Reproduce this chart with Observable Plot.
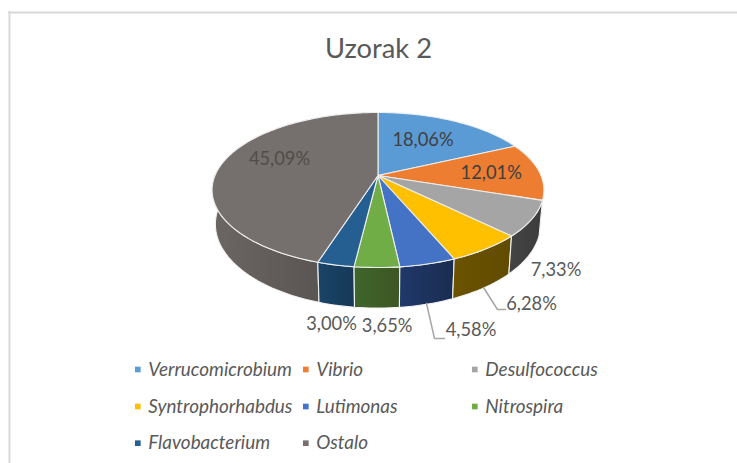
<!DOCTYPE html>
<html>
<head>
<meta charset="utf-8">
<style>html,body{margin:0;padding:0;background:#fff}svg{display:block}</style>
<script src="https://cdn.jsdelivr.net/npm/d3@7"></script>
<script src="https://cdn.jsdelivr.net/npm/@observablehq/plot@0.6"></script>
</head>
<body>
<div id="chart"></div>
<script>
const chartTitle = "Uzorak 2";
const names = ["Verrucomicrobium","Vibrio","Desulfococcus","Syntrophorhabdus","Lutimonas","Nitrospira","Flavobacterium","Ostalo"];
const values = [18.06,12.01,7.33,6.28,4.58,3.65,3.00,45.09];
const colors = ["#5b9bd5","#ed7d31","#a5a5a5","#ffc000","#4472c4","#70ad47","#255e91","#75706e"];
// wall shading, left and right colour of each slice's outer wall (null: wall not visible)
const wallLeft  = [null,null,"#444444","#6b5300","#20396a","#3f662c","#1a4468","#6b6664"];
const wallRight = [null,null,"#3c3c3c","#614b00","#1a2c50","#3d5524","#153856","#504c4a"];

// layout of the labels and the legend
const labelX = [422.5,490.7,555.5,531,470.5,386.6,331,279];
const labelY = [140,173,270,304,330,326,324,159];
const labelInk = ["#404040","#404040","#595959","#595959","#595959","#595959","#595959","#504c4a"];
const leaders = [
  {k:"a",x:483,y:287},{k:"a",x:497,y:309},{k:"a",x:505,y:309},
  {k:"b",x:426,y:303},{k:"b",x:434,y:338},{k:"b",x:444,y:338}
];
const legendX = [137.3,305.3,474.3];
const legendY = [369,406,442.7];

// 3D pie projection
const cx = 377.5, cy = 175, R = 163, S = 74.8, K = 0.187, depth = 33, baseShrink = 0.98;
const project = (deg, base) => {
  const t = deg * Math.PI / 180, u = Math.sin(t), v = Math.cos(t), w = 1 + K * v;
  return base
    ? {x: cx + baseShrink * R * u / w, y: cy - S * v / w + depth / w}
    : {x: cx + R * u / w, y: cy - S * v / w};
};
const cum = d3.cumsum(values);
const slices = names.map((name,i) => ({
  name, i,
  a0: (i ? cum[i-1] : 0) * 3.6,
  a1: cum[i] * 3.6
}));
const arcAngles = s => {
  const n = Math.max(2, Math.ceil((s.a1 - s.a0) / 1.5));
  return d3.range(n + 1).map(j => s.a0 + (s.a1 - s.a0) * j / n);
};
const topPts = slices.flatMap(s => [
  {name:s.name, x:cx, y:cy},
  ...arcAngles(s).map(a => ({name:s.name, ...project(a,false)}))
]);
const wallPts = s => [
  ...arcAngles(s).map(a => project(a,false)),
  ...arcAngles(s).reverse().map(a => project(a,true))
];
const labels = slices.map(s => ({
  text: values[s.i].toFixed(2).replace(".",",") + "%",
  x: labelX[s.i], y: labelY[s.i], ink: labelInk[s.i]
}));
const legend = names.map((name,i) => ({
  name,
  x: legendX[i % 3],
  y: legendY[Math.floor(i / 3)]
}));

const defs = () => {
  const d = d3.create("svg:defs");
  slices.forEach(s => {
    if (!wallLeft[s.i]) return;
    const g = d.append("linearGradient").attr("id","wall"+s.i);
    g.append("stop").attr("offset","0%").attr("stop-color",wallLeft[s.i]);
    g.append("stop").attr("offset","100%").attr("stop-color",wallRight[s.i]);
  });
  return d.node();
};

const font = "Lato, Carlito, sans-serif";
const walls = slices.filter(s => wallLeft[s.i]).reverse().map(s =>
  Plot.line(wallPts(s), {x:"x", y:"y", curve:"linear-closed", fill:`url(#wall${s.i})`, stroke:"#f2f2f2", strokeWidth:1.1})
);

const plot = Plot.plot({
  width:737, height:463, margin:0,
  x:{domain:[0,737], range:[0,737], axis:null},
  y:{domain:[0,463], range:[0,463], axis:null},
  color:{domain:names, range:colors},
  style:{background:"#fff", fontFamily:font},
  marks:[
    defs,
    Plot.ruleX([9],{y1:11,y2:463,stroke:"#d9d9d9",strokeWidth:2}),
    Plot.ruleY([12],{x1:8,x2:737,stroke:"#d9d9d9",strokeWidth:2}),
    ...walls,
    Plot.line(topPts,{x:"x",y:"y",z:"name",fill:"name",stroke:"#eeeeee",strokeWidth:1.1,curve:"linear-closed"}),
    Plot.line(leaders,{x:"x",y:"y",z:"k",stroke:"#a6a6a6",strokeWidth:1.5}),
    Plot.text([chartTitle],{x:()=>378,y:()=>49,text:d=>d,fontSize:27.3,fill:"#595959",fontFamily:font}),
    Plot.text(labels,{x:"x",y:"y",text:"text",fill:"ink",fontSize:18.3,fontFamily:font}),
    Plot.dot(legend,{x:"x",y:"y",fill:"name",symbol:"square",r:3.2}),
    Plot.text(legend,{x:d=>d.x+10.5,y:"y",text:"name",textAnchor:"start",fontSize:18.9,fontStyle:"italic",fill:"#595959",fontFamily:font})
  ]
});
document.getElementById("chart").appendChild(plot);
</script>
</body>
</html>
